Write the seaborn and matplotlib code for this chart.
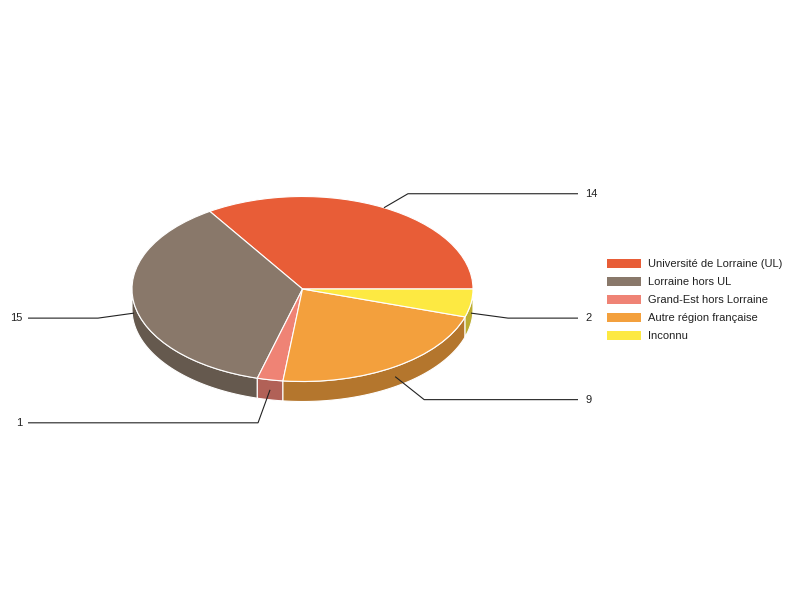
import numpy as np
import matplotlib
matplotlib.use("Agg")
import matplotlib.pyplot as plt
from matplotlib.patches import Polygon
import seaborn as sns

# ------------------------------------------------------------
# DATA
# ------------------------------------------------------------
categories = [
    "Université de Lorraine (UL)",
    "Lorraine hors UL",
    "Grand-Est hors Lorraine",
    "Autre région française",
    "Inconnu",
]
values = [14, 15, 1, 9, 2]
colors = ["#e85d37", "#89786a", "#ef8375", "#f3a03d", "#fde942"]

# ------------------------------------------------------------
# LAYOUT (pixels in an 800x600 image)
# ------------------------------------------------------------
CX, CY = 302.5, 289.0      # ellipse centre
RX, RY = 170.5, 92.5       # ellipse radii
DEPTH = 20.0 / RY          # side wall depth in data units
# offset from label anchor to knee of the leader line, in pixels
knee_offsets = [(24, -14), (-36, 5), (-12, 33), (29, 23), (37, 5)]

sns.set_theme(style="white")
plt.rcParams["font.family"] = ["Liberation Sans", "DejaVu Sans"]

fig = plt.figure(figsize=(8, 6), dpi=100)
ax = fig.add_axes([0, 0, 1, 1])

palette = sns.color_palette(colors)

wedges, _ = ax.pie(
    values,
    colors=palette,
    startangle=0,
    counterclock=True,
    radius=1,
    center=(0, 0),
    wedgeprops=dict(edgecolor="white", linewidth=0.8, zorder=3),
)

ax.set_aspect("auto")
ax.set_xlim(-CX / RX, (800 - CX) / RX)
ax.set_ylim(-(600 - CY) / RY, CY / RY)
ax.axis("off")


def px_to_data(dx, dy):
    return dx / RX, -dy / RY


# side walls: only the front half (180..360 deg) is visible
angles = np.cumsum([0] + values) / sum(values) * 360
for i, col in enumerate(palette):
    lo = max(angles[i], 180)
    hi = min(angles[i + 1], 360)
    if hi <= lo:
        continue
    t = np.radians(np.linspace(lo, hi, 80))
    top = np.column_stack([np.cos(t), np.sin(t)])
    bot = np.column_stack([np.cos(t), np.sin(t) - DEPTH])[::-1]
    side = tuple(c * 0.74 for c in col)
    ax.add_patch(Polygon(np.vstack([top, bot]), closed=True, facecolor=side,
                         edgecolor="white", linewidth=0.8, zorder=2))

# value labels with leader lines
for i, v in enumerate(values):
    mid = np.radians((angles[i] + angles[i + 1]) / 2)
    ax_x, ax_y = np.cos(mid), np.sin(mid)
    if np.sin(mid) < 0:
        ax_y -= DEPTH / 2
    kdx, kdy = px_to_data(*knee_offsets[i])
    kx, ky = ax_x + kdx, ax_y + kdy
    if kx > 0:
        end_x = (578 - CX) / RX
        tx, ha = (585 - CX) / RX, "left"
    else:
        end_x = (28 - CX) / RX
        tx, ha = (22 - CX) / RX, "right"
    ax.plot([ax_x, kx, end_x], [ax_y, ky, ky], color="#222222", lw=0.8,
            zorder=4, solid_capstyle="butt")
    ax.text(tx, ky, str(v), ha=ha, va="center", fontsize=8, color="#222222")

leg = ax.legend(
    wedges, categories,
    loc="upper left",
    bbox_to_anchor=(607 / 800, 1 - 259 / 600),
    bbox_transform=fig.transFigure,
    frameon=False,
    fontsize=8,
    handlelength=3.1,
    handleheight=0.9,
    handletextpad=0.6,
    labelspacing=0.68,
    borderpad=0,
    borderaxespad=0,
)
for h in leg.legend_handles:
    h.set_edgecolor("none")
for t in leg.get_texts():
    t.set_color("#222222")

fig.savefig("out.png", dpi=100, facecolor="white")
